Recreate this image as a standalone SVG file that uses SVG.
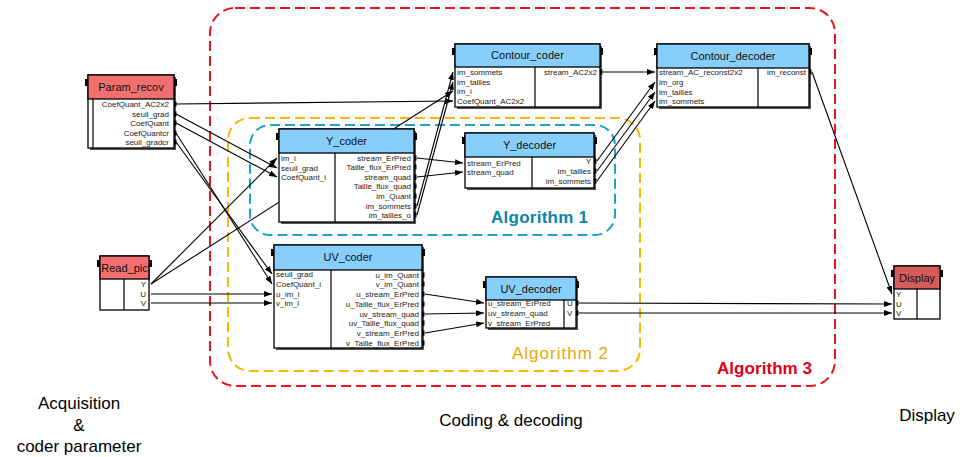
<svg xmlns="http://www.w3.org/2000/svg" width="960" height="457" viewBox="0 0 960 457">
<style>
.bg{fill:#fff}
.sh{fill:#555}
.box{fill:#fff;stroke:#000;stroke-width:1.3}
.hr{fill:#f07070;stroke:#000;stroke-width:1.3}
.hb{fill:#87cefa;stroke:#000;stroke-width:1.3}
.hd{fill:#d65c5c;stroke:#000;stroke-width:1.3}
.dv{stroke:#000;stroke-width:1.2}
.tab{fill:#000}
.pt{fill:#000}
.ti{font-family:"Liberation Sans",Arial,sans-serif;font-size:11px;fill:#111;text-anchor:middle}
.pl{font-family:"Liberation Sans",Arial,sans-serif;font-size:8px;fill:#222}
.pr{font-family:"Liberation Sans",Arial,sans-serif;font-size:8px;fill:#222;text-anchor:end}
.cn{stroke:#000;stroke-width:1.1;fill:none;marker-end:url(#ah)}
.grp{fill:none;stroke-width:2;stroke-dasharray:10 5}
.alg{font-family:"Liberation Sans",Arial,sans-serif;font-size:17px}
.cap{font-family:"Liberation Sans",Arial,sans-serif;font-size:17px;fill:#000;text-anchor:middle}
</style>
<defs>
<marker id="ah" markerUnits="userSpaceOnUse" markerWidth="8" markerHeight="6" refX="8" refY="3" orient="auto">
<path d="M0,0 L8,3 L0,6 z" fill="#000"/>
</marker>
</defs>
<rect class="bg" x="0" y="0" width="960" height="457"/>

<g id="groups">
<rect class="grp" x="210" y="8" width="625" height="378" rx="25" stroke="#e8141e"/>
<rect class="grp" x="228" y="118" width="412" height="253" rx="22" stroke="#f7b900"/>
<rect class="grp" x="250" y="125" width="365" height="110" rx="20" stroke="#1ba3c6"/>
<text class="alg" x="491" y="223" font-weight="bold" fill="#0a86a8" textLength="97">Algorithm 1</text>
<text class="alg" x="512" y="359" fill="#e8a800" textLength="96">Algorithm 2</text>
<text class="alg" x="717" y="374" font-weight="bold" fill="#e0001a" textLength="95">Algorithm 3</text>
</g>

<g id="connectors">
<line class="cn" x1="176" y1="104" x2="453" y2="101"/>
<line class="cn" x1="176" y1="114" x2="277" y2="168"/>
<line class="cn" x1="176" y1="123" x2="277" y2="177"/>
<line class="cn" x1="176" y1="133" x2="272" y2="284"/>
<line class="cn" x1="176" y1="142" x2="272" y2="274"/>
<line class="cn" x1="151" y1="284" x2="277" y2="158"/>
<line class="cn" x1="151" y1="284" x2="453" y2="91"/>
<line class="cn" x1="151" y1="294" x2="272" y2="294"/>
<line class="cn" x1="151" y1="303" x2="272" y2="303"/>
<line class="cn" x1="417" y1="206" x2="453" y2="72"/>
<line class="cn" x1="417" y1="215" x2="453" y2="82"/>
<line class="cn" x1="417" y1="158" x2="463" y2="163"/>
<line class="cn" x1="417" y1="177" x2="463" y2="172"/>
<line class="cn" x1="603" y1="72" x2="655" y2="72"/>
<line class="cn" x1="597" y1="161" x2="655" y2="82"/>
<line class="cn" x1="597" y1="171" x2="655" y2="92"/>
<line class="cn" x1="597" y1="181" x2="655" y2="101"/>
<line class="cn" x1="812" y1="72" x2="892" y2="294"/>
<line class="cn" x1="425" y1="294" x2="484" y2="303"/>
<line class="cn" x1="425" y1="314" x2="484" y2="313"/>
<line class="cn" x1="425" y1="333" x2="484" y2="323"/>
<line class="cn" x1="579" y1="303" x2="892" y2="304"/>
<line class="cn" x1="579" y1="313" x2="892" y2="313"/>
</g>

<g id="Param_recov">
<rect class="sh" x="90" y="77" width="86" height="73"/>
<rect class="box" x="88" y="75" width="86" height="73"/>
<rect class="hr" x="88" y="75" width="86" height="24"/>
<line class="dv" x1="93" y1="99" x2="93" y2="148"/>
<rect class="tab" x="85" y="79" width="3" height="7"/><rect class="tab" x="174" y="79" width="3" height="7"/>
<text class="ti" x="131" y="91">Param_recov</text>
<text class="pr" x="169" y="106.5">CoefQuant_AC2x2</text>
<text class="pr" x="169" y="116.5">seuil_grad</text>
<text class="pr" x="169" y="125.5">CoefQuant</text>
<text class="pr" x="169" y="135.5">CoefQuantcr</text>
<text class="pr" x="169" y="144.5">seuil_gradcr</text>
<rect class="pt" x="174" y="101.5" width="2.5" height="5"/><rect class="pt" x="174" y="111.5" width="2.5" height="5"/><rect class="pt" x="174" y="120.5" width="2.5" height="5"/><rect class="pt" x="174" y="130.5" width="2.5" height="5"/><rect class="pt" x="174" y="139.5" width="2.5" height="5"/>
</g>

<g id="Read_pic">
<rect class="box" x="100" y="256" width="49" height="54"/>
<rect class="hr" x="100" y="256" width="49" height="23"/>
<line class="dv" x1="124" y1="279" x2="124" y2="310"/>
<rect class="tab" x="97" y="260" width="3" height="7"/><rect class="tab" x="149" y="260" width="3" height="7"/>
<text class="ti" x="124.5" y="272">Read_pic</text>
<text class="pr" x="146" y="286.5">Y</text>
<text class="pr" x="146" y="296.5">U</text>
<text class="pr" x="146" y="305.5">V</text>
</g>

<g id="Y_coder">
<rect class="sh" x="281" y="131" width="135" height="93"/>
<rect class="box" x="279" y="129" width="135" height="93"/>
<rect class="hb" x="279" y="129" width="135" height="24"/>
<line class="dv" x1="335" y1="153" x2="335" y2="222"/>
<rect class="tab" x="276" y="133" width="3" height="7"/><rect class="tab" x="414" y="133" width="3" height="7"/>
<text class="ti" x="346.5" y="145">Y_coder</text>
<text class="pl" x="281" y="160.5">im_i</text>
<text class="pl" x="281" y="170.5">seuil_grad</text>
<text class="pl" x="281" y="179.5">CoefQuant_i</text>
<text class="pr" x="411" y="160.5">stream_ErPred</text>
<text class="pr" x="411" y="169.5">Taille_flux_ErPred</text>
<text class="pr" x="411" y="179.5">stream_quad</text>
<text class="pr" x="411" y="188.5">Taille_flux_quad</text>
<text class="pr" x="411" y="198.5">im_Quant</text>
<text class="pr" x="411" y="208.5">im_sommets</text>
<text class="pr" x="411" y="217.5">im_tailles_o</text>
<rect class="pt" x="414" y="155.5" width="2.5" height="5"/><rect class="pt" x="414" y="164.5" width="2.5" height="5"/><rect class="pt" x="414" y="174.5" width="2.5" height="5"/><rect class="pt" x="414" y="183.5" width="2.5" height="5"/><rect class="pt" x="414" y="193.5" width="2.5" height="5"/><rect class="pt" x="414" y="203.5" width="2.5" height="5"/><rect class="pt" x="414" y="212.5" width="2.5" height="5"/>
</g>

<g id="Y_decoder">
<rect class="sh" x="467" y="135" width="129" height="55"/>
<rect class="box" x="465" y="133" width="129" height="55"/>
<rect class="hb" x="465" y="133" width="129" height="24"/>
<line class="dv" x1="532" y1="157" x2="532" y2="188"/>
<rect class="tab" x="462" y="137" width="3" height="7"/><rect class="tab" x="594" y="137" width="3" height="7"/>
<text class="ti" x="529.5" y="149">Y_decoder</text>
<text class="pl" x="467" y="165.5">stream_ErPred</text>
<text class="pl" x="467" y="174.5">stream_quad</text>
<text class="pr" x="591" y="163.5">Y</text>
<text class="pr" x="591" y="173.5">im_tailles</text>
<text class="pr" x="591" y="183.5">im_sommets</text>
<rect class="pt" x="594" y="158.5" width="2.5" height="5"/><rect class="pt" x="594" y="168.5" width="2.5" height="5"/><rect class="pt" x="594" y="178.5" width="2.5" height="5"/>
</g>

<g id="Contour_coder">
<rect class="sh" x="457" y="46" width="145" height="63"/>
<rect class="box" x="455" y="44" width="145" height="63"/>
<rect class="hb" x="455" y="44" width="145" height="23"/>
<line class="dv" x1="535" y1="67" x2="535" y2="107"/>
<rect class="tab" x="452" y="48" width="3" height="7"/><rect class="tab" x="600" y="48" width="3" height="7"/>
<text class="ti" x="527.5" y="59">Contour_coder</text>
<text class="pl" x="457" y="74.5">im_sommets</text>
<text class="pl" x="457" y="84.5">im_tailles</text>
<text class="pl" x="457" y="93.5">im_i</text>
<text class="pl" x="457" y="103.5">CoefQuant_AC2x2</text>
<text class="pr" x="597" y="74.5">stream_AC2x2</text>
<rect class="pt" x="600" y="69.5" width="2.5" height="5"/>
</g>

<g id="Contour_decoder">
<rect class="sh" x="659" y="46" width="152" height="63"/>
<rect class="box" x="657" y="44" width="152" height="63"/>
<rect class="hb" x="657" y="44" width="152" height="24"/>
<line class="dv" x1="758" y1="68" x2="758" y2="107"/>
<rect class="tab" x="654" y="48" width="3" height="7"/><rect class="tab" x="809" y="48" width="3" height="7"/>
<text class="ti" x="733" y="60">Contour_decoder</text>
<text class="pl" x="659" y="74.5">stream_AC_reconst2x2</text>
<text class="pl" x="659" y="84.5">im_org</text>
<text class="pl" x="659" y="94.5">im_tailles</text>
<text class="pl" x="659" y="103.5">im_sommets</text>
<text class="pr" x="806" y="74.5">im_reconst</text>
<rect class="pt" x="809" y="69.5" width="2.5" height="5"/>
</g>

<g id="UV_coder">
<rect class="sh" x="276" y="247" width="148" height="103"/>
<rect class="box" x="274" y="245" width="148" height="103"/>
<rect class="hb" x="274" y="245" width="148" height="25"/>
<line class="dv" x1="331" y1="270" x2="331" y2="348"/>
<rect class="tab" x="271" y="249" width="3" height="7"/><rect class="tab" x="422" y="249" width="3" height="7"/>
<text class="ti" x="348" y="261">UV_coder</text>
<text class="pl" x="276" y="276.5">seuil_grad</text>
<text class="pl" x="276" y="286.5">CoefQuant_i</text>
<text class="pl" x="276" y="296.5">u_im_i</text>
<text class="pl" x="276" y="305.5">v_im_i</text>
<text class="pr" x="419" y="277.5">u_im_Quant</text>
<text class="pr" x="419" y="286.5">v_im_Quant</text>
<text class="pr" x="419" y="296.5">u_stream_ErPred</text>
<text class="pr" x="419" y="306.5">u_Taille_flux_ErPred</text>
<text class="pr" x="419" y="316.5">uv_stream_quad</text>
<text class="pr" x="419" y="325.5">uv_Taille_flux_quad</text>
<text class="pr" x="419" y="335.5">v_stream_ErPred</text>
<text class="pr" x="419" y="345.5">v_Taille_flux_ErPred</text>
<rect class="pt" x="422" y="272.5" width="2.5" height="5"/><rect class="pt" x="422" y="281.5" width="2.5" height="5"/><rect class="pt" x="422" y="291.5" width="2.5" height="5"/><rect class="pt" x="422" y="301.5" width="2.5" height="5"/><rect class="pt" x="422" y="311.5" width="2.5" height="5"/><rect class="pt" x="422" y="320.5" width="2.5" height="5"/><rect class="pt" x="422" y="330.5" width="2.5" height="5"/><rect class="pt" x="422" y="340.5" width="2.5" height="5"/>
</g>

<g id="UV_decoder">
<rect class="sh" x="488" y="279" width="90" height="51"/>
<rect class="box" x="486" y="277" width="90" height="51"/>
<rect class="hb" x="486" y="277" width="90" height="23"/>
<line class="dv" x1="564" y1="300" x2="564" y2="328"/>
<rect class="tab" x="483" y="281" width="3" height="7"/><rect class="tab" x="576" y="281" width="3" height="7"/>
<text class="ti" x="531" y="292.5">UV_decoder</text>
<text class="pl" x="488" y="305.5">u_stream_ErPred</text>
<text class="pl" x="488" y="315.5">uv_stream_quad</text>
<text class="pl" x="488" y="325.5">v_stream_ErPred</text>
<text class="pl" x="567" y="305.5">U</text>
<text class="pl" x="567" y="315.5">V</text>
<rect class="pt" x="576" y="300.5" width="2.5" height="5"/><rect class="pt" x="576" y="310.5" width="2.5" height="5"/>
</g>

<g id="Display">
<rect class="box" x="894" y="266" width="46" height="53"/>
<rect class="hd" x="894" y="266" width="46" height="23"/>
<line class="dv" x1="917" y1="289" x2="917" y2="319"/>
<rect class="tab" x="891" y="270" width="3" height="7"/><rect class="tab" x="940" y="270" width="3" height="7"/>
<text class="ti" x="917" y="282">Display</text>
<text class="pl" x="896" y="296.5">Y</text>
<text class="pl" x="896" y="306.5">U</text>
<text class="pl" x="896" y="315.5">V</text>
</g>

<g id="captions">
<text class="cap" x="79" y="409">Acquisition</text>
<text class="cap" x="79" y="431">&amp;</text>
<text class="cap" x="79" y="452">coder parameter</text>
<text class="cap" x="511" y="426">Coding &amp; decoding</text>
<text class="cap" x="927" y="421">Display</text>
</g>
</svg>
